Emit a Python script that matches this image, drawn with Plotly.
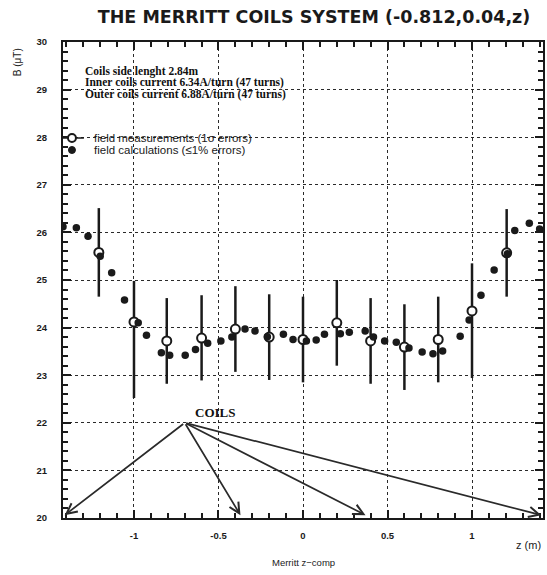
import plotly.graph_objects as go

# ---- data ----
meas_z = [-1.208, -1.0, -0.806, -0.60, -0.40, -0.20, 0.0, 0.20, 0.40, 0.60, 0.80, 1.0, 1.205]
meas_B = [25.58, 24.12, 23.72, 23.78, 23.97, 23.80, 23.75, 24.10, 23.72, 23.59, 23.75, 24.35, 25.57]
meas_err_plus = [0.93, 0.86, 0.90, 0.90, 0.90, 0.90, 0.90, 0.90, 0.90, 0.90, 0.90, 1.00, 0.92]
meas_err_minus = [0.93, 1.60, 0.90, 0.89, 0.90, 0.90, 0.90, 0.90, 0.90, 0.90, 0.90, 1.41, 0.92]

calc_z = [-1.42, -1.341, -1.272, -1.20, -1.132, -1.056, -0.975, -0.926, -0.838, -0.789,
          -0.697, -0.636, -0.564, -0.486, -0.421, -0.343, -0.284, -0.211, -0.116, -0.059,
          0.02, 0.078, 0.127, 0.221, 0.274, 0.368, 0.417, 0.483, 0.552, 0.627,
          0.705, 0.769, 0.826, 0.93, 0.983, 1.053, 1.131, 1.21, 1.253, 1.339, 1.40]
calc_B = [26.12, 26.10, 25.92, 25.50, 25.15, 24.58, 24.10, 23.84, 23.47, 23.42,
          23.42, 23.54, 23.67, 23.72, 23.80, 23.97, 23.93, 23.81, 23.86, 23.75,
          23.72, 23.74, 23.86, 23.87, 23.90, 23.93, 23.80, 23.72, 23.69, 23.57,
          23.49, 23.45, 23.51, 23.82, 24.16, 24.68, 25.21, 25.55, 26.04, 26.19, 26.07]

x_tickvals = [-1, -0.5, 0, 0.5, 1]
x_ticktext = ["-1", "-0.5", "0", "0.5", "1"]
y_tickvals = [20, 21, 22, 23, 24, 25, 26, 27, 28, 29, 30]

coil_z = [-1.41, -0.37, 0.37, 1.41]
coil_label_z, coil_label_B = -0.70, 22.0
coil_tip_B = 20.06

info_lines = ["Coils side lenght 2.84m",
              "Inner coils current 6.34A/turn (47 turns)",
              "Outer coils current 6.88A/turn (47 turns)"]
legend_labels = ["field measurements (1\u03c3 errors)", "field calculations (\u22641% errors)"]

# ---- geometry ----
W, H = 547, 575
ML, MR, MT, MB = 63, 2, 42, 57
PW, PH = W - ML - MR, H - MT - MB


def px_x(px):
    return (px - ML) / PW


def px_y(py):
    return (H - MB - py) / PH


fig = go.Figure()

fig.add_trace(go.Scatter(
    x=meas_z, y=meas_B, mode="markers",
    marker=dict(symbol="circle", size=9, color="white", line=dict(color="#1a1a1a", width=2)),
    error_y=dict(type="data", symmetric=False, array=meas_err_plus, arrayminus=meas_err_minus,
                 color="#1a1a1a", thickness=2.5, width=0),
    showlegend=False))

fig.add_trace(go.Scatter(
    x=calc_z, y=calc_B, mode="markers",
    marker=dict(symbol="circle", size=7.5, color="#1a1a1a"),
    showlegend=False))

axis_common = dict(
    showline=True, linecolor="#1a1a1a", linewidth=2, mirror="allticks",
    ticks="inside", ticklen=8, tickwidth=1.5, tickcolor="#1a1a1a",
    showgrid=True, gridcolor="#2a2a2a", griddash="dot", gridwidth=1.4,
    zeroline=False,
    tickfont=dict(family="Liberation Sans", size=9.5, color="#1a1a1a", weight="bold"),
)

fig.update_xaxes(range=[-1.42, 1.42], tickmode="array", tickvals=x_tickvals, ticktext=x_ticktext,
                 minor=dict(ticks="inside", dtick=0.1, ticklen=5, tickwidth=1.5, tickcolor="#1a1a1a",
                            showgrid=False),
                 ticklabelstandoff=8, **axis_common)
fig.update_yaxes(range=[20, 30], tickmode="array", tickvals=y_tickvals,
                 minor=dict(ticks="inside", dtick=0.2, ticklen=5, tickwidth=1.5, tickcolor="#1a1a1a",
                            showgrid=False),
                 ticklabelstandoff=12, **axis_common)

annotations = []
shapes = []

# info text
info_y = [71, 82.5, 94.5]
for t, yy in zip(info_lines, info_y):
    annotations.append(dict(text=t, xref="paper", yref="paper", x=px_x(83), y=px_y(yy),
                            xanchor="left", yanchor="middle", showarrow=False,
                            font=dict(family="Liberation Serif", size=11.5, color="#111", weight="bold")))

# manual legend
leg_y = [138, 150]
for lbl, yy in zip(legend_labels, leg_y):
    annotations.append(dict(text=lbl, xref="paper", yref="paper", x=px_x(92), y=px_y(yy),
                            xanchor="left", yanchor="middle", showarrow=False,
                            font=dict(family="Liberation Sans", size=11.5, color="#1a1a1a")))
shapes.append(dict(type="line", xref="paper", yref="paper", x0=px_x(63), x1=px_x(84),
                   y0=px_y(leg_y[0]), y1=px_y(leg_y[0]), line=dict(color="#1a1a1a", width=1.5)))
shapes.append(dict(type="circle", xref="paper", yref="paper", x0=px_x(68), x1=px_x(76),
                   y0=px_y(leg_y[0] + 4), y1=px_y(leg_y[0] - 4), fillcolor="white",
                   line=dict(color="#1a1a1a", width=2)))
shapes.append(dict(type="circle", xref="paper", yref="paper", x0=px_x(68.5), x1=px_x(75.5),
                   y0=px_y(leg_y[1] + 3.5), y1=px_y(leg_y[1] - 3.5), fillcolor="#1a1a1a",
                   line=dict(color="#1a1a1a", width=1)))

# coils arrows
for cz in coil_z:
    annotations.append(dict(x=cz, y=coil_tip_B, ax=coil_label_z, ay=coil_label_B,
                            xref="x", yref="y", axref="x", ayref="y", text="",
                            showarrow=True, arrowhead=5, arrowsize=1.2, arrowwidth=1.7,
                            arrowcolor="#2a2a2a"))
annotations.append(dict(text="COILS", x=coil_label_z + 0.05, y=coil_label_B + 0.02,
                        xref="x", yref="y", xanchor="left", yanchor="bottom", showarrow=False,
                        font=dict(family="Liberation Serif", size=13, color="#111", weight="bold")))

# axis titles
annotations.append(dict(text="B (\u03bcT)", xref="paper", yref="paper", x=px_x(18), y=px_y(62),
                        xanchor="center", yanchor="middle", textangle=-90, showarrow=False,
                        font=dict(family="Liberation Sans", size=10, color="#222")))
annotations.append(dict(text="z (m)", xref="paper", yref="paper", x=px_x(545), y=px_y(545),
                        xanchor="right", yanchor="middle", showarrow=False,
                        font=dict(family="Liberation Sans", size=11, color="#222")))
annotations.append(dict(text="Merritt z\u2212comp", xref="paper", yref="paper", x=px_x(305), y=px_y(562),
                        xanchor="center", yanchor="middle", showarrow=False,
                        font=dict(family="Liberation Sans", size=9.5, color="#222")))

fig.update_layout(
    width=W, height=H,
    margin=dict(l=ML, r=MR, t=MT, b=MB),
    paper_bgcolor="white", plot_bgcolor="white",
    title=dict(text="<b>THE MERRITT COILS SYSTEM (-0.812,0.04,z)</b>",
               x=314 / W, xref="container", xanchor="center",
               y=1 - 17 / H, yref="container", yanchor="middle",
               font=dict(family="DejaVu Sans", size=17.5, color="#1a1a1a")),
    annotations=annotations, shapes=shapes,
    showlegend=False,
)

fig.write_html("out.html")
